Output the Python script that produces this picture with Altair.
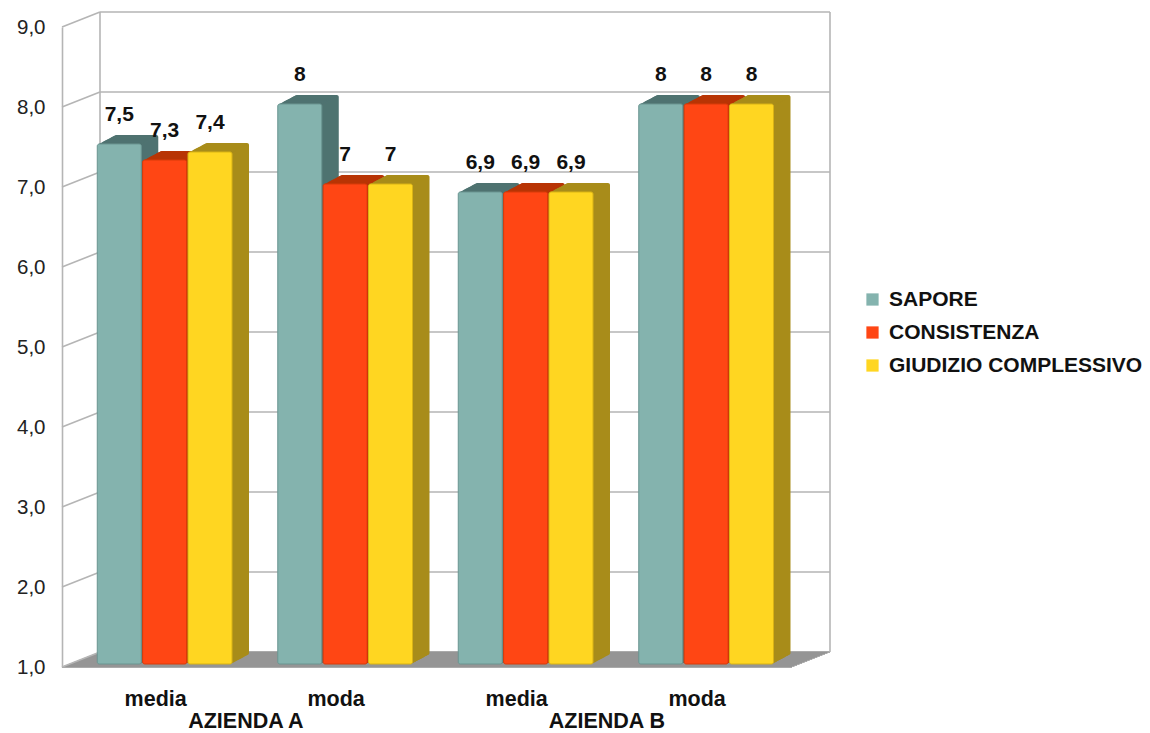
import altair as alt
import pandas as pd

# Valutazioni medie e mode per azienda
gruppi = ["media", "moda", "media", "moda"]
aziende = ["AZIENDA A", "AZIENDA A", "AZIENDA B", "AZIENDA B"]
serie = ["SAPORE", "CONSISTENZA", "GIUDIZIO COMPLESSIVO"]
sapore = [7.5, 8, 6.9, 8]
consistenza = [7.3, 7, 6.9, 8]
giudizio = [7.4, 7, 6.9, 8]
y_ticks = [1, 2, 3, 4, 5, 6, 7, 8, 9]

front_colors = ["#84b3ae", "#ff4614", "#ffd621"]
side_colors = ["#4f7371", "#b83405", "#a88c1a"]
edge_colors = ["#6a9591", "#d83a08", "#d9b315"]

FONT = "Liberation Sans"
W, H = 730, 640
STEP = 183.0          # pixels per group
BAR_W = 44
BAR_STEP = 46
DEPTH_X, DEPTH_Y = 17, 9   # oblique depth of the bars
WALL_X, WALL_Y = 38, 15    # depth of the back wall
LIFT = 3                   # bars stand slightly behind the front edge
GRID = "#b5b5b5"

rows = []
for g, (grp, az) in enumerate(zip(gruppi, aziende)):
    for s, (name, vals) in enumerate(zip(serie, [sapore, consistenza, giudizio])):
        v = vals[g]
        rows.append({
            "gruppo": grp, "azienda": az, "g": g, "serie": name, "s": s,
            "valore": v,
            "pos": g + (s - 1) * BAR_STEP / STEP,
            "etichetta": f"{v:g}".replace(".", ","),
        })
df = pd.DataFrame(rows)

x_scale = alt.Scale(domain=[-99 / STEP, -99 / STEP + W / STEP], nice=False, zero=False)
y_scale = alt.Scale(domain=[1, 9], nice=False, zero=False)

# one shared y axis definition, used by every layer so that they merge
y_axis = alt.Axis(
    values=y_ticks, title=None, grid=False, ticks=False,
    domain=True, domainColor=GRID, domainWidth=1.6,
    labelExpr="replace(format(datum.value, '.1f'), '.', ',')",
    labelFont=FONT, labelFontSize=20.5, labelColor="#222222",
    labelPadding=17,
)


def Y(field):
    return alt.Y(field, scale=y_scale, axis=y_axis)


X_POS = alt.X("pos:Q", scale=x_scale, axis=None)

base = alt.Chart(df)
ticks = alt.Chart(pd.DataFrame({"v": y_ticks}))

layers = []

# floor of the box
floor_steps = 16
for k in range(floor_steps):
    t = k / (floor_steps - 1)
    layers.append(
        alt.Chart(pd.DataFrame({"v": [1]})).mark_rule(
            color="#8e8e8e", strokeWidth=1.6, yOffset=-WALL_Y * t
        ).encode(
            x=alt.value(WALL_X * t), x2=alt.value(W + WALL_X * t),
            y=Y("v:Q"),
        )
    )

# back wall gridlines
layers.append(
    ticks.transform_filter("datum.v > 1").mark_rule(color=GRID, strokeWidth=1.6, yOffset=-WALL_Y).encode(
        x=alt.value(WALL_X), x2=alt.value(W + WALL_X),
        y=Y("v:Q"),
    )
)
# left wall lines
layers.append(
    ticks.mark_rule(color=GRID, strokeWidth=1.6, y2Offset=-WALL_Y).encode(
        x=alt.value(0), x2=alt.value(WALL_X),
        y=Y("v:Q"), y2="v:Q",
    )
)
# vertical edges of the back wall
for xv in (WALL_X, W + WALL_X):
    layers.append(
        alt.Chart(pd.DataFrame({"a": [9], "b": [1]})).mark_rule(
            color=GRID, strokeWidth=1.6, yOffset=-WALL_Y, y2Offset=-WALL_Y
        ).encode(
            x=alt.value(xv),
            y=Y("a:Q"), y2="b:Q",
        )
    )

# bars: oblique extrusion first, then the front face, series by series
for s, name in enumerate(serie):
    sub = base.transform_filter(alt.datum.serie == name)
    for k in range(DEPTH_X, 0, -1):
        off = -LIFT - k * DEPTH_Y / DEPTH_X
        layers.append(
            sub.mark_bar(
                width=BAR_W, color=side_colors[s], cornerRadius=2,
                xOffset=k, yOffset=off, y2Offset=off,
            ).encode(x=X_POS, y=Y("valore:Q"), y2=alt.datum(1))
        )
    layers.append(
        sub.mark_bar(
            width=BAR_W, stroke=edge_colors[s], strokeWidth=1, cornerRadius=2,
            yOffset=-LIFT, y2Offset=-LIFT,
        ).encode(
            x=X_POS,
            y=Y("valore:Q"),
            y2=alt.datum(1),
            color=alt.Color(
                "serie:N",
                scale=alt.Scale(domain=serie, range=front_colors),
                legend=alt.Legend(
                    title=None, orient="none", legendX=800, legendY=262,
                    symbolType="square", symbolSize=150, symbolStrokeWidth=0,
                    labelFont=FONT, labelFontSize=21, labelFontWeight="bold",
                    labelColor="#111111", rowPadding=11, labelOffset=6,
                    labelLimit=500,
                ),
            ),
        )
    )

# value labels above the bars
layers.append(
    base.mark_text(
        font=FONT, fontSize=21, fontWeight="bold", color="#111111",
        baseline="bottom", dy=-19 - LIFT,
    ).encode(x=X_POS, y=Y("valore:Q"), text="etichetta:N")
)

# category labels under the floor
cat_df = pd.DataFrame({"gruppo": gruppi, "g": list(range(len(gruppi)))})
layers.append(
    alt.Chart(cat_df).mark_text(
        font=FONT, fontSize=21.5, fontWeight="bold", color="#111111", xOffset=-9,
    ).encode(
        x=alt.X("g:Q", scale=x_scale, axis=None),
        y=alt.value(H + 33),
        text="gruppo:N",
    )
)
az_df = pd.DataFrame({"azienda": ["AZIENDA A", "AZIENDA B"], "g": [0.5, 2.5]})
layers.append(
    alt.Chart(az_df).mark_text(
        font=FONT, fontSize=21.5, fontWeight="bold", color="#111111", xOffset=-9,
    ).encode(
        x=alt.X("g:Q", scale=x_scale, axis=None),
        y=alt.value(H + 55),
        text="azienda:N",
    )
)

chart = alt.layer(*layers).properties(
    width=W, height=H,
    autosize=alt.AutoSizeParams(type="none"),
    padding={"left": 62, "top": 27, "right": 1150 - 62 - W, "bottom": 733 - 27 - H},
    background="white",
).configure_view(strokeWidth=0)

chart.save("out.html", embed_options={"renderer": "svg", "actions": False})
